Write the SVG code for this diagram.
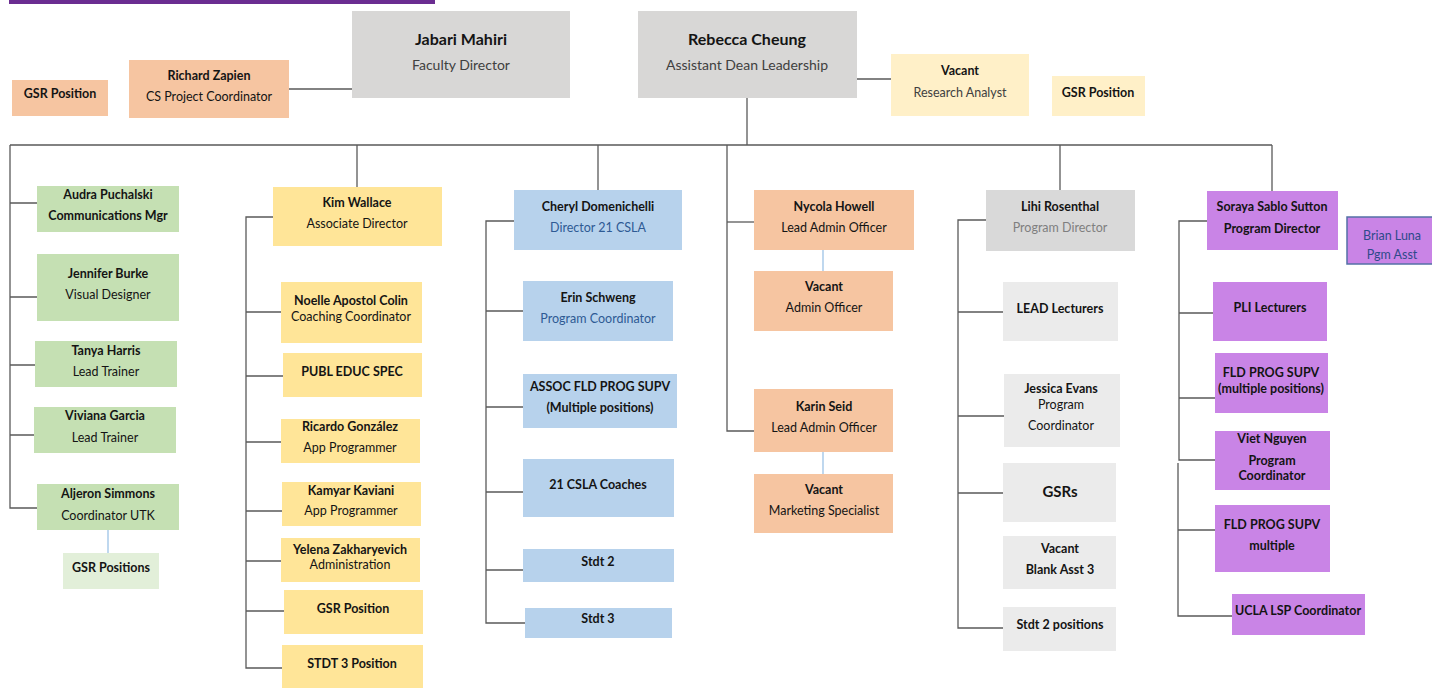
<svg xmlns="http://www.w3.org/2000/svg" width="1432" height="688" viewBox="0 0 1432 688">
<style>
text{font-family:Lato,"Liberation Sans",sans-serif;text-anchor:middle;fill:#141414}
.b{font-size:12.5px;font-weight:700}
.r{font-size:12.5px;font-weight:400}
.hb{font-size:16px;font-weight:700}
.hr{font-size:14px;font-weight:400;fill:#404040}
.ln{stroke:#5a5a5a;stroke-width:1.3;fill:none}
.bl{stroke:#9dc3e6;stroke-width:1.3;fill:none}
.gry{fill:#d8d7d6}
.org{fill:#f6c5a1}
.lyl{fill:#fff0c8}
.grn{fill:#c5e0b3}
.lgr{fill:#e2efd9}
.yel{fill:#ffe598}
.blu{fill:#b7d2ec}
.lg{fill:#d9d9d9}
.llg{fill:#ebebeb}
.pur{fill:#c984e6}
.bt{fill:#2e5a94}
.gt{fill:#7f7f7f}
</style>
<rect x="9" y="0" width="426" height="4" fill="#6b2d91"/>
<g id="connectors">
<path class="ln" d="M289,89 H352 M857,79 H891 M747,98 V145 M10,145 H1272 M357,145 V187 M598,145 V190 M727,145 V431 H754 M1060,145 V190 M1272,145 V191"/>
<path class="ln" d="M10,145 V508 H37 M10,203 H38 M10,297 H37 M10,365 H35 M10,435 H34"/>
<path class="bl" d="M108,530 V553"/>
<path class="ln" d="M273,217 H246 V668 H282 M246,312 H281 M246,376 H283 M246,442 H281 M246,511 H282 M246,561 H281 M246,611 H284"/>
<path class="ln" d="M514,221 H486 V623 H525 M486,311 H523 M486,407 H523 M486,492 H523 M486,570 H523"/>
<path class="ln" d="M727,222 H754"/>
<path class="bl" d="M823,250 V271 M823,452 V474"/>
<path class="ln" d="M986,220 H958 V628 H1003 M958,312 H1003 M958,416 H1004 M958,493 H1003"/>
<path class="ln" d="M1207,221 H1179 V460 H1215 M1178,463 V616 H1232 M1179,313 H1213 M1179,398 H1215 M1178,530 H1215"/>
</g>
<g id="n-gsr-left"><rect class="org" x="12" y="80" width="96" height="36"/><text class="b" x="60" y="98">GSR Position</text></g>
<g id="n-zapien"><rect class="org" x="129" y="60" width="160" height="58"/><text class="b" x="209" y="80">Richard Zapien</text><text class="r" x="209" y="101">CS Project Coordinator</text></g>
<g id="n-mahiri"><rect class="gry" x="352" y="11" width="218" height="87"/><text class="hb" x="461" y="45">Jabari Mahiri</text><text class="hr" x="461" y="70">Faculty Director</text></g>
<g id="n-cheung"><rect class="gry" x="638" y="11" width="219" height="87"/><text class="hb" x="747" y="45">Rebecca Cheung</text><text class="hr" x="747" y="70">Assistant Dean Leadership</text></g>
<g id="n-research"><rect class="lyl" x="891" y="54" width="138" height="62"/><text class="b" x="960" y="75">Vacant</text><text class="r" x="960" y="97" style="fill:#404040">Research Analyst</text></g>
<g id="n-gsr-right"><rect class="lyl" x="1052" y="76" width="93" height="40"/><text class="b" x="1098" y="97">GSR Position</text></g>

<g id="n-audra"><rect class="grn" x="37" y="186" width="142" height="46"/><text class="b" x="108" y="199">Audra Puchalski</text><text class="b" x="108" y="220">Communications Mgr</text></g>
<g id="n-jennifer"><rect class="grn" x="37" y="254" width="142" height="67"/><text class="b" x="108" y="278">Jennifer Burke</text><text class="r" x="108" y="299">Visual Designer</text></g>
<g id="n-tanya"><rect class="grn" x="35" y="341" width="142" height="46"/><text class="b" x="106" y="355">Tanya Harris</text><text class="r" x="106" y="376">Lead Trainer</text></g>
<g id="n-viviana"><rect class="grn" x="34" y="407" width="142" height="46"/><text class="b" x="105" y="420">Viviana Garcia</text><text class="r" x="105" y="442">Lead Trainer</text></g>
<g id="n-aljeron"><rect class="grn" x="37" y="484" width="142" height="46"/><text class="b" x="108" y="498">Aljeron Simmons</text><text class="r" x="108" y="520">Coordinator UTK</text></g>
<g id="n-gsr-positions"><rect class="lgr" x="63" y="553" width="96" height="36"/><text class="b" x="111" y="572">GSR Positions</text></g>

<g id="n-kim"><rect class="yel" x="273" y="187" width="169" height="59"/><text class="b" x="357" y="207">Kim Wallace</text><text class="r" x="357" y="228">Associate Director</text></g>
<g id="n-noelle"><rect class="yel" x="281" y="282" width="141" height="61"/><text class="b" x="351" y="305">Noelle Apostol Colin</text><text class="r" x="351" y="321">Coaching Coordinator</text></g>
<g id="n-publ"><rect class="yel" x="283" y="353" width="139" height="44"/><text class="b" x="352" y="376">PUBL EDUC SPEC</text></g>
<g id="n-ricardo"><rect class="yel" x="281" y="419" width="139" height="44"/><text class="b" x="350" y="431">Ricardo González</text><text class="r" x="350" y="452">App Programmer</text></g>
<g id="n-kamyar"><rect class="yel" x="282" y="482" width="139" height="44"/><text class="b" x="351" y="495">Kamyar Kaviani</text><text class="r" x="351" y="515">App Programmer</text></g>
<g id="n-yelena"><rect class="yel" x="281" y="538" width="139" height="44"/><text class="b" x="350" y="554">Yelena Zakharyevich</text><text class="r" x="350" y="569">Administration</text></g>
<g id="n-gsr-kim"><rect class="yel" x="284" y="590" width="139" height="44"/><text class="b" x="353" y="613">GSR Position</text></g>
<g id="n-stdt3-kim"><rect class="yel" x="282" y="645" width="141" height="43"/><text class="b" x="352" y="668">STDT 3 Position</text></g>

<g id="n-cheryl"><rect class="blu" x="514" y="190" width="168" height="60"/><text class="b" x="598" y="211">Cheryl Domenichelli</text><text class="r bt" x="598" y="232">Director 21 CSLA</text></g>
<g id="n-erin"><rect class="blu" x="523" y="281" width="150" height="60"/><text class="b" x="598" y="302">Erin Schweng</text><text class="r bt" x="598" y="323">Program Coordinator</text></g>
<g id="n-assoc"><rect class="blu" x="523" y="374" width="154" height="54"/><text class="b" x="600" y="391">ASSOC FLD PROG SUPV</text><text class="b" x="600" y="412">(Multiple positions)</text></g>
<g id="n-coaches"><rect class="blu" x="523" y="459" width="151" height="58"/><text class="b" x="598" y="489">21 CSLA Coaches</text></g>
<g id="n-stdt2"><rect class="blu" x="523" y="549" width="151" height="33"/><text class="b" x="598" y="566">Stdt 2</text></g>
<g id="n-stdt3"><rect class="blu" x="525" y="608" width="147" height="30"/><text class="b" x="598" y="623">Stdt 3</text></g>

<g id="n-nycola"><rect class="org" x="754" y="190" width="160" height="60"/><text class="b" x="834" y="211">Nycola Howell</text><text class="r" x="834" y="232">Lead Admin Officer</text></g>
<g id="n-admin"><rect class="org" x="754" y="271" width="139" height="60"/><text class="b" x="824" y="291">Vacant</text><text class="r" x="824" y="312">Admin Officer</text></g>
<g id="n-karin"><rect class="org" x="754" y="389" width="139" height="63"/><text class="b" x="824" y="411">Karin Seid</text><text class="r" x="824" y="432">Lead Admin Officer</text></g>
<g id="n-marketing"><rect class="org" x="754" y="474" width="139" height="59"/><text class="b" x="824" y="494">Vacant</text><text class="r" x="824" y="515">Marketing Specialist</text></g>

<g id="n-lihi"><rect class="lg" x="986" y="190" width="149" height="61"/><text class="b" x="1060" y="211">Lihi Rosenthal</text><text class="r gt" x="1060" y="232">Program Director</text></g>
<g id="n-lead"><rect class="llg" x="1003" y="282" width="115" height="59"/><text class="b" x="1060" y="313">LEAD Lecturers</text></g>
<g id="n-jessica"><rect class="llg" x="1004" y="374" width="116" height="73"/><text class="b" x="1061" y="393">Jessica Evans</text><text class="r" x="1061" y="409">Program</text><text class="r" x="1061" y="430">Coordinator</text></g>
<g id="n-gsrs"><rect class="llg" x="1003" y="463" width="113" height="59"/><text class="b" x="1060" y="497" style="font-size:15px">GSRs</text></g>
<g id="n-blank"><rect class="llg" x="1003" y="536" width="113" height="53"/><text class="b" x="1060" y="553">Vacant</text><text class="b" x="1060" y="574">Blank Asst 3</text></g>
<g id="n-stdt2pos"><rect class="llg" x="1003" y="607" width="113" height="44"/><text class="b" x="1060" y="629">Stdt 2 positions</text></g>

<g id="n-soraya"><rect class="pur" x="1207" y="191" width="131" height="59"/><text class="b" x="1272" y="211">Soraya Sablo Sutton</text><text class="b" x="1272" y="233">Program Director</text></g>
<g id="n-brian"><rect class="pur" x="1347" y="217" width="86" height="47" stroke="#5470a6" stroke-width="1.5"/><text class="r" x="1392" y="240" style="fill:#2e4a8a">Brian Luna</text><text class="r" x="1392" y="259" style="fill:#2e4a8a">Pgm Asst</text></g>
<g id="n-pli"><rect class="pur" x="1213" y="282" width="114" height="59"/><text class="b" x="1270" y="312">PLI Lecturers</text></g>
<g id="n-fld1"><rect class="pur" x="1215" y="353" width="113" height="60"/><text class="b" x="1271" y="377">FLD PROG SUPV</text><text class="b" x="1271" y="393">(multiple positions)</text></g>
<g id="n-viet"><rect class="pur" x="1215" y="431" width="115" height="59"/><text class="b" x="1272" y="443">Viet Nguyen</text><text class="b" x="1272" y="465">Program</text><text class="b" x="1272" y="480">Coordinator</text></g>
<g id="n-fld2"><rect class="pur" x="1215" y="505" width="115" height="67"/><text class="b" x="1272" y="529">FLD PROG SUPV</text><text class="b" x="1272" y="550">multiple</text></g>
<g id="n-ucla"><rect class="pur" x="1232" y="594" width="133" height="41"/><text class="b" x="1298" y="615">UCLA LSP Coordinator</text></g>
</svg>
